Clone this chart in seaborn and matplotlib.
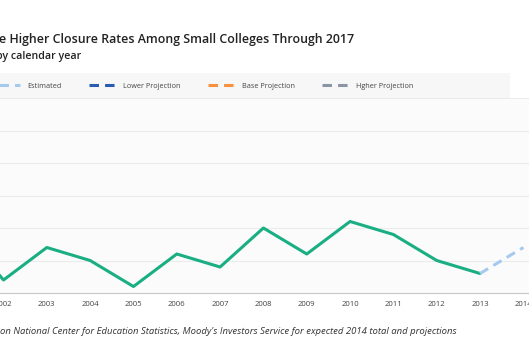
import numpy as np
import pandas as pd
import matplotlib
matplotlib.use("Agg")
import matplotlib.pyplot as plt
from matplotlib.lines import Line2D
from matplotlib.patches import Rectangle
import seaborn as sns

# --- DATA ---
years_actual = [2001, 2002, 2003, 2004, 2005, 2006, 2007, 2008, 2009, 2010, 2011, 2012, 2013]
closures_actual = [10, 2, 7, 5, 1, 6, 4, 10, 6, 11, 9, 5, 3]
years_estimated = [2013, 2014]
closures_estimated = [3, 7]
tick_years = list(range(2001, 2018))

legend_labels = ["Estimated", "Lower Projection", "Base Projection", "Hgher Projection"]
legend_colors = ["#a6c9ee", "#2b5cb3", "#f5913f", "#8c95a3"]

title_text = "e Higher Closure Rates Among Small Colleges Through 2017"
subtitle_text = "by calendar year"
source_text = ("on National Center for Education Statistics, Moody's Investors Service "
               "for expected 2014 total and projections")

# --- STYLE ---
sns.set_style("white")
plt.rcParams["font.family"] = ["Open Sans", "DejaVu Sans"]

W, H = 529, 353
fig = plt.figure(figsize=(W / 100, H / 100), dpi=100)

# axes placed in pixels; the reference is a cropped screenshot, so the axes run off the canvas
px_per_year = 43.32
x0, x1 = 2000.5, 2017.5
left_px = 3.5 - (2002 - x0) * px_per_year
width_px = (x1 - x0) * px_per_year
bottom_px, top_px = 293, 98
ax = fig.add_axes([left_px / W, 1 - bottom_px / H, width_px / W, (bottom_px - top_px) / H])
ax.set_facecolor("#fbfbfb")

# legend band background
fig.patches.append(Rectangle((0, 1 - 98 / H), 510 / W, 25 / H, transform=fig.transFigure,
                             facecolor="#f7f7f7", edgecolor="none", zorder=0))

df_actual = pd.DataFrame({"year": years_actual, "closures": closures_actual})
df_est = pd.DataFrame({"year": years_estimated, "closures": closures_estimated})

sns.lineplot(data=df_actual, x="year", y="closures", color="#1aae83", linewidth=2.2, ax=ax)
sns.lineplot(data=df_est, x="year", y="closures", color=legend_colors[0], linewidth=2.2,
             dashes=False, ax=ax)
ax.lines[-1].set_dashes((3.1, 2.0))

ax.set_xlim(x0, x1)
ax.set_ylim(0, 30)
ax.set_yticks([0, 5, 10, 15, 20, 25, 30])
ax.set_yticklabels([])
ax.set_xticks(tick_years)
ax.set_xticklabels([str(y) for y in tick_years])
ax.grid(axis="y", color="#ebebeb", linewidth=0.8)
ax.set_axisbelow(True)
ax.tick_params(axis="x", length=3, width=0.6, color="#c4c4c4", labelsize=5.6,
               labelcolor="#444444", pad=3)
ax.tick_params(axis="y", length=0)
ax.set_xlabel("")
ax.set_ylabel("")
for side in ["left", "right", "top"]:
    ax.spines[side].set_visible(False)
ax.spines["bottom"].set_color("#c8c8c8")
ax.spines["bottom"].set_linewidth(0.8)

# legend
handles = [Line2D([], [], color=c, linewidth=2.2, dashes=(3.1, 2.0)) for c in legend_colors]
fig.legend(handles, legend_labels, loc="center left", bbox_to_anchor=(-7 / W, 1 - 86 / H),
           ncol=4, frameon=False, fontsize=5.2, handlelength=3.7, handletextpad=1.05,
           columnspacing=3.75, borderpad=0, borderaxespad=0, labelcolor="#444444")

# titles and source
fig.text(-1 / W, 1 - 40 / H, title_text, fontsize=8.9, fontweight="semibold",
         color="#222222", va="center", ha="left")
fig.text(-4 / W, 1 - 57 / H, subtitle_text, fontsize=7.7, fontweight="semibold",
         color="#222222", va="center", ha="left")
fig.text(0 / W, 1 - 332 / H, source_text, fontsize=6.8, style="italic",
         color="#333333", va="center", ha="left")

fig.savefig("out.png", dpi=100)
